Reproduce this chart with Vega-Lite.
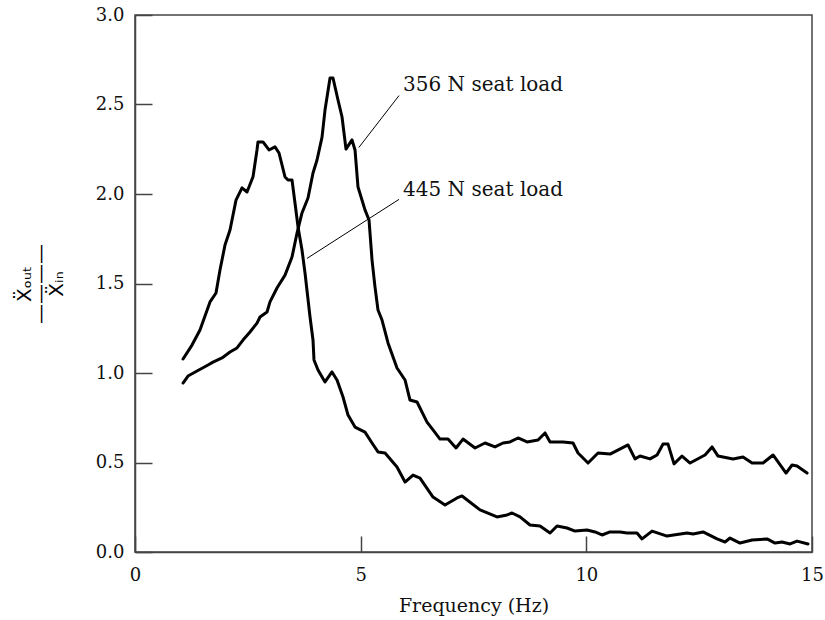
{
  "$schema": "https://vega.github.io/schema/vega-lite/v6.json",
  "width": 677,
  "height": 537,
  "autosize": {"type": "none"},
  "padding": {"left": 135, "top": 15, "right": 13, "bottom": 68},
  "background": "white",
  "config": {
    "view": {"stroke": "#444", "strokeWidth": 1.5},
    "font": "DejaVu Serif",
    "axis": {
      "grid": false,
      "domainColor": "#444",
      "domainWidth": 1.5,
      "tickColor": "#444",
      "tickWidth": 1.5,
      "labelFont": "DejaVu Serif",
      "labelFontSize": 18,
      "labelColor": "#111",
      "labelFlush": false,
      "titleFont": "DejaVu Serif",
      "titleFontSize": 19,
      "titleFontWeight": "normal",
      "titleColor": "#111"
    }
  },
  "datasets": {
    "curves": [
      {"f": 1.064, "v": 1.078, "load": "445 N"},
      {"f": 1.263, "v": 1.156, "load": "445 N"},
      {"f": 1.44, "v": 1.24, "load": "445 N"},
      {"f": 1.662, "v": 1.397, "load": "445 N"},
      {"f": 1.795, "v": 1.447, "load": "445 N"},
      {"f": 1.883, "v": 1.575, "load": "445 N"},
      {"f": 1.994, "v": 1.715, "load": "445 N"},
      {"f": 2.105, "v": 1.799, "load": "445 N"},
      {"f": 2.238, "v": 1.966, "load": "445 N"},
      {"f": 2.371, "v": 2.034, "load": "445 N"},
      {"f": 2.482, "v": 2.011, "load": "445 N"},
      {"f": 2.615, "v": 2.096, "load": "445 N"},
      {"f": 2.703, "v": 2.246, "load": "445 N"},
      {"f": 2.725, "v": 2.291, "load": "445 N"},
      {"f": 2.836, "v": 2.291, "load": "445 N"},
      {"f": 2.969, "v": 2.246, "load": "445 N"},
      {"f": 3.102, "v": 2.263, "load": "445 N"},
      {"f": 3.191, "v": 2.229, "load": "445 N"},
      {"f": 3.324, "v": 2.095, "load": "445 N"},
      {"f": 3.39, "v": 2.078, "load": "445 N"},
      {"f": 3.479, "v": 2.078, "load": "445 N"},
      {"f": 3.545, "v": 1.95, "load": "445 N"},
      {"f": 3.612, "v": 1.816, "load": "445 N"},
      {"f": 3.7, "v": 1.687, "load": "445 N"},
      {"f": 3.767, "v": 1.559, "load": "445 N"},
      {"f": 3.878, "v": 1.313, "load": "445 N"},
      {"f": 3.944, "v": 1.184, "load": "445 N"},
      {"f": 3.966, "v": 1.073, "load": "445 N"},
      {"f": 4.055, "v": 1.017, "load": "445 N"},
      {"f": 4.21, "v": 0.95, "load": "445 N"},
      {"f": 4.365, "v": 1.006, "load": "445 N"},
      {"f": 4.476, "v": 0.961, "load": "445 N"},
      {"f": 4.609, "v": 0.866, "load": "445 N"},
      {"f": 4.72, "v": 0.765, "load": "445 N"},
      {"f": 4.875, "v": 0.698, "load": "445 N"},
      {"f": 5.096, "v": 0.67, "load": "445 N"},
      {"f": 5.252, "v": 0.609, "load": "445 N"},
      {"f": 5.384, "v": 0.559, "load": "445 N"},
      {"f": 5.54, "v": 0.553, "load": "445 N"},
      {"f": 5.805, "v": 0.475, "load": "445 N"},
      {"f": 5.983, "v": 0.391, "load": "445 N"},
      {"f": 6.16, "v": 0.43, "load": "445 N"},
      {"f": 6.315, "v": 0.413, "load": "445 N"},
      {"f": 6.603, "v": 0.307, "load": "445 N"},
      {"f": 6.869, "v": 0.263, "load": "445 N"},
      {"f": 7.135, "v": 0.302, "load": "445 N"},
      {"f": 7.246, "v": 0.313, "load": "445 N"},
      {"f": 7.645, "v": 0.235, "load": "445 N"},
      {"f": 8.021, "v": 0.196, "load": "445 N"},
      {"f": 8.243, "v": 0.207, "load": "445 N"},
      {"f": 8.354, "v": 0.218, "load": "445 N"},
      {"f": 8.531, "v": 0.196, "load": "445 N"},
      {"f": 8.752, "v": 0.151, "load": "445 N"},
      {"f": 8.974, "v": 0.145, "load": "445 N"},
      {"f": 9.196, "v": 0.106, "load": "445 N"},
      {"f": 9.351, "v": 0.145, "load": "445 N"},
      {"f": 9.572, "v": 0.134, "load": "445 N"},
      {"f": 9.75, "v": 0.117, "load": "445 N"},
      {"f": 10.015, "v": 0.123, "load": "445 N"},
      {"f": 10.193, "v": 0.112, "load": "445 N"},
      {"f": 10.348, "v": 0.095, "load": "445 N"},
      {"f": 10.525, "v": 0.112, "load": "445 N"},
      {"f": 10.747, "v": 0.112, "load": "445 N"},
      {"f": 10.902, "v": 0.106, "load": "445 N"},
      {"f": 11.123, "v": 0.106, "load": "445 N"},
      {"f": 11.234, "v": 0.073, "load": "445 N"},
      {"f": 11.456, "v": 0.117, "load": "445 N"},
      {"f": 11.788, "v": 0.089, "load": "445 N"},
      {"f": 12.231, "v": 0.106, "load": "445 N"},
      {"f": 12.364, "v": 0.101, "load": "445 N"},
      {"f": 12.586, "v": 0.112, "load": "445 N"},
      {"f": 12.896, "v": 0.073, "load": "445 N"},
      {"f": 13.073, "v": 0.056, "load": "445 N"},
      {"f": 13.184, "v": 0.078, "load": "445 N"},
      {"f": 13.406, "v": 0.05, "load": "445 N"},
      {"f": 13.672, "v": 0.067, "load": "445 N"},
      {"f": 14.004, "v": 0.073, "load": "445 N"},
      {"f": 14.181, "v": 0.05, "load": "445 N"},
      {"f": 14.336, "v": 0.056, "load": "445 N"},
      {"f": 14.514, "v": 0.045, "load": "445 N"},
      {"f": 14.669, "v": 0.061, "load": "445 N"},
      {"f": 14.912, "v": 0.045, "load": "445 N"},
      {"f": 1.064, "v": 0.944, "load": "356 N"},
      {"f": 1.174, "v": 0.983, "load": "356 N"},
      {"f": 1.374, "v": 1.011, "load": "356 N"},
      {"f": 1.618, "v": 1.045, "load": "356 N"},
      {"f": 1.728, "v": 1.061, "load": "356 N"},
      {"f": 1.928, "v": 1.084, "load": "356 N"},
      {"f": 2.105, "v": 1.117, "load": "356 N"},
      {"f": 2.26, "v": 1.14, "load": "356 N"},
      {"f": 2.393, "v": 1.184, "load": "356 N"},
      {"f": 2.548, "v": 1.229, "load": "356 N"},
      {"f": 2.703, "v": 1.279, "load": "356 N"},
      {"f": 2.77, "v": 1.313, "load": "356 N"},
      {"f": 2.925, "v": 1.341, "load": "356 N"},
      {"f": 2.991, "v": 1.397, "load": "356 N"},
      {"f": 3.146, "v": 1.475, "load": "356 N"},
      {"f": 3.324, "v": 1.547, "load": "356 N"},
      {"f": 3.479, "v": 1.648, "load": "356 N"},
      {"f": 3.59, "v": 1.782, "load": "356 N"},
      {"f": 3.7, "v": 1.894, "load": "356 N"},
      {"f": 3.833, "v": 1.978, "load": "356 N"},
      {"f": 3.944, "v": 2.117, "load": "356 N"},
      {"f": 4.033, "v": 2.19, "load": "356 N"},
      {"f": 4.144, "v": 2.318, "load": "356 N"},
      {"f": 4.21, "v": 2.469, "load": "356 N"},
      {"f": 4.321, "v": 2.648, "load": "356 N"},
      {"f": 4.387, "v": 2.648, "load": "356 N"},
      {"f": 4.498, "v": 2.525, "load": "356 N"},
      {"f": 4.587, "v": 2.43, "load": "356 N"},
      {"f": 4.675, "v": 2.251, "load": "356 N"},
      {"f": 4.808, "v": 2.302, "load": "356 N"},
      {"f": 4.875, "v": 2.246, "load": "356 N"},
      {"f": 4.941, "v": 2.039, "load": "356 N"},
      {"f": 5.096, "v": 1.911, "load": "356 N"},
      {"f": 5.185, "v": 1.855, "load": "356 N"},
      {"f": 5.252, "v": 1.631, "load": "356 N"},
      {"f": 5.318, "v": 1.48, "load": "356 N"},
      {"f": 5.384, "v": 1.352, "load": "356 N"},
      {"f": 5.473, "v": 1.296, "load": "356 N"},
      {"f": 5.606, "v": 1.168, "load": "356 N"},
      {"f": 5.805, "v": 1.028, "load": "356 N"},
      {"f": 5.983, "v": 0.961, "load": "356 N"},
      {"f": 6.093, "v": 0.849, "load": "356 N"},
      {"f": 6.249, "v": 0.838, "load": "356 N"},
      {"f": 6.47, "v": 0.726, "load": "356 N"},
      {"f": 6.603, "v": 0.682, "load": "356 N"},
      {"f": 6.758, "v": 0.631, "load": "356 N"},
      {"f": 6.935, "v": 0.631, "load": "356 N"},
      {"f": 7.113, "v": 0.581, "load": "356 N"},
      {"f": 7.268, "v": 0.631, "load": "356 N"},
      {"f": 7.534, "v": 0.581, "load": "356 N"},
      {"f": 7.755, "v": 0.609, "load": "356 N"},
      {"f": 7.977, "v": 0.587, "load": "356 N"},
      {"f": 8.154, "v": 0.609, "load": "356 N"},
      {"f": 8.309, "v": 0.615, "load": "356 N"},
      {"f": 8.487, "v": 0.637, "load": "356 N"},
      {"f": 8.686, "v": 0.615, "load": "356 N"},
      {"f": 8.93, "v": 0.626, "load": "356 N"},
      {"f": 9.085, "v": 0.665, "load": "356 N"},
      {"f": 9.196, "v": 0.615, "load": "356 N"},
      {"f": 9.484, "v": 0.615, "load": "356 N"},
      {"f": 9.705, "v": 0.609, "load": "356 N"},
      {"f": 9.816, "v": 0.553, "load": "356 N"},
      {"f": 10.038, "v": 0.497, "load": "356 N"},
      {"f": 10.259, "v": 0.553, "load": "356 N"},
      {"f": 10.525, "v": 0.547, "load": "356 N"},
      {"f": 10.924, "v": 0.598, "load": "356 N"},
      {"f": 11.079, "v": 0.52, "load": "356 N"},
      {"f": 11.19, "v": 0.536, "load": "356 N"},
      {"f": 11.411, "v": 0.52, "load": "356 N"},
      {"f": 11.567, "v": 0.542, "load": "356 N"},
      {"f": 11.7, "v": 0.603, "load": "356 N"},
      {"f": 11.81, "v": 0.603, "load": "356 N"},
      {"f": 11.943, "v": 0.492, "load": "356 N"},
      {"f": 12.12, "v": 0.536, "load": "356 N"},
      {"f": 12.298, "v": 0.497, "load": "356 N"},
      {"f": 12.63, "v": 0.542, "load": "356 N"},
      {"f": 12.785, "v": 0.587, "load": "356 N"},
      {"f": 12.918, "v": 0.536, "load": "356 N"},
      {"f": 13.251, "v": 0.52, "load": "356 N"},
      {"f": 13.472, "v": 0.531, "load": "356 N"},
      {"f": 13.672, "v": 0.497, "load": "356 N"},
      {"f": 13.915, "v": 0.497, "load": "356 N"},
      {"f": 14.137, "v": 0.542, "load": "356 N"},
      {"f": 14.425, "v": 0.441, "load": "356 N"},
      {"f": 14.558, "v": 0.486, "load": "356 N"},
      {"f": 14.669, "v": 0.48, "load": "356 N"},
      {"f": 14.89, "v": 0.441, "load": "356 N"}
    ],
    "leaders": [
      {"f1": 5.85, "v1": 2.55, "f2": 4.96, "v2": 2.26},
      {"f1": 5.85, "v1": 1.97, "f2": 3.81, "v2": 1.64}
    ],
    "labels": [
      {"f": 5.94, "v": 2.61, "text": "356 N seat load"},
      {"f": 5.94, "v": 2.02, "text": "445 N seat load"}
    ]
  },
  "layer": [
    {
      "data": {"name": "curves"},
      "mark": {"type": "line", "color": "black", "strokeWidth": 3, "strokeJoin": "round", "strokeCap": "round"},
      "encoding": {
        "x": {
          "field": "f", "type": "quantitative",
          "scale": {"domain": [0, 15], "nice": false},
          "axis": {
            "values": [0, 5, 10, 15],
            "tickSize": -16,
            "labelPadding": 30,
            "title": "Frequency (Hz)",
            "titlePadding": 12
          }
        },
        "y": {
          "field": "v", "type": "quantitative",
          "scale": {"domain": [0, 3], "nice": false},
          "axis": {
            "values": [0, 0.5, 1, 1.5, 2, 2.5, 3],
            "format": ".1f",
            "tickSize": -17,
            "labelPadding": 28,
            "title": ["Ẍₒᵤₜ", "————", "Ẍᵢₙ"],
            "titleFont": "DejaVu Sans",
            "titleFontSize": 20,
            "titleColor": "#000",
            "titleLineHeight": 16,
            "titlePadding": 29
          }
        },
        "detail": {"field": "load"}
      }
    },
    {
      "data": {"name": "leaders"},
      "mark": {"type": "rule", "color": "black", "strokeWidth": 1},
      "encoding": {
        "x": {"field": "f1", "type": "quantitative"},
        "y": {"field": "v1", "type": "quantitative"},
        "x2": {"field": "f2"},
        "y2": {"field": "v2"}
      }
    },
    {
      "data": {"name": "labels"},
      "mark": {"type": "text", "align": "left", "baseline": "middle", "font": "DejaVu Serif", "fontSize": 20, "color": "#111"},
      "encoding": {
        "x": {"field": "f", "type": "quantitative"},
        "y": {"field": "v", "type": "quantitative"},
        "text": {"field": "text"}
      }
    }
  ]
}
